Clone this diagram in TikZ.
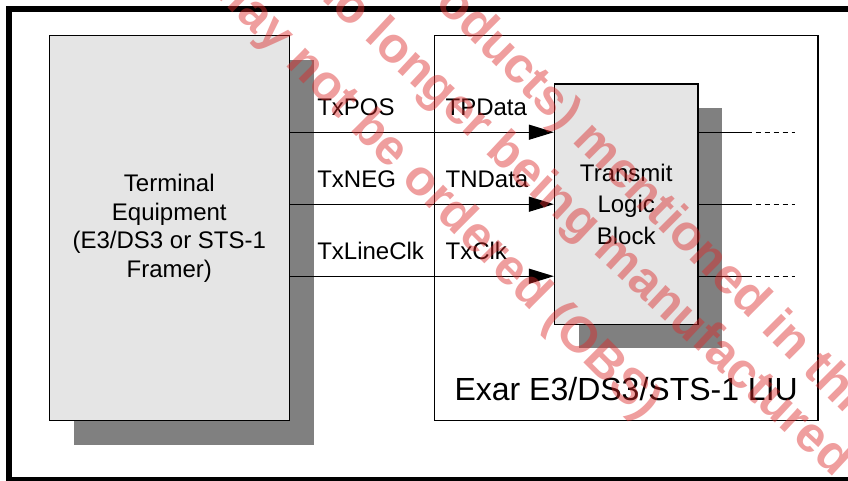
\documentclass[tikz,border=0pt]{standalone}
\usepackage{fontspec}
\setmainfont{Liberation Sans}
\newfontfamily\wmfont{Liberation Sans Bold}
\usetikzlibrary{arrows.meta,positioning,shadows}
\definecolor{wmred}{RGB}{220,40,40}
\tikzset{block/.style   = {rectangle, draw, line width=1.2pt, fill=gray!20, align=center, inner sep=0pt,
		drop shadow={shadow xshift=24.5pt, shadow yshift=-24pt, fill=gray, opacity=1}},
	liubox/.style  = {rectangle, draw, line width=1.2pt, inner sep=0pt},
	sigline/.style = {draw, line width=1.2pt, -{Triangle[length=25pt,width=15pt]}},
	outline/.style = {draw, line width=1.2pt},
	siglbl/.style  = {anchor=base west, inner sep=0pt},
	stamp/.style   = {anchor=mid west, inner sep=0pt, rotate=-43, text=wmred, text opacity=0.45,
		font=\wmfont\fontsize{50}{60}\selectfont}
}

\begin{document}
\begin{tikzpicture}[x=1pt, y=-1pt, font=\fontsize{24}{28.8}\selectfont]
		\useasboundingbox (0,0) rectangle (848,480);
		\clip (0,0) rectangle (848,480);
		\fill[white] (0,0) rectangle (848,480);
		\draw[line width=6pt] (9,9) rectangle (851,480);
		%% framer on the left, LIU to its right
		\node [block, minimum width=240pt, minimum height=385pt] (term) at (169.3,228.2)
			{Terminal\\Equipment\\(E3/DS3 or STS-1\\Framer)};
		\node [liubox, right=144pt of term, minimum width=383.4pt, minimum height=385pt] (liu) {};
		\node [block, minimum width=143.4pt, minimum height=240.3pt, font=\fontsize{24}{31.7}\selectfont]
			(tlb) at ([yshift=24pt]liu.center) {Transmit\\Logic\\Block};
		\node [anchor=base, inner sep=0pt, font=\fontsize{32}{38.4}\selectfont] (liulbl)
			at ([yshift=20.7pt]liu.south) {Exar E3/DS3/STS-1 LIU};
		%% three transmit signals, in and out
		\foreach \n/\dy/\la/\lb in {1/72/TxPOS/TPData, 2/0/TxNEG/TNData, 3/-72/TxLineClk/TxClk} {
			\coordinate (in\n) at ([yshift=\dy pt]tlb.west);
			\coordinate (out\n) at ([yshift=\dy pt]tlb.east);
			\path[sigline] (in\n -| term.east) -- (in\n);
			\node [siglbl] (la\n) at ([xshift=27.2pt, yshift=17pt]in\n -| term.east) {\la};
			\node [siglbl] (lb\n) at ([xshift=11.5pt, yshift=17pt]in\n -| liu.west) {\lb};
			\path[outline] (out\n) -- ++(48,0) coordinate (dash\n);
			\path[outline, dash pattern=on 5pt off 4pt] (dash\n) -- ++(48,0);
		}
		%% watermark over everything
		\node [stamp, rotate=-2] (wmA) at (205.7,-18.3) {may not be ordered (OBS)};
		\node [stamp] (wmB) at (309.9,-14.4) {no longer being manufactured};
		\node [stamp, rotate=-2] (wmC) at (400.8,-33.2) {products) mentioned in this};
\end{tikzpicture}
\end{document}
